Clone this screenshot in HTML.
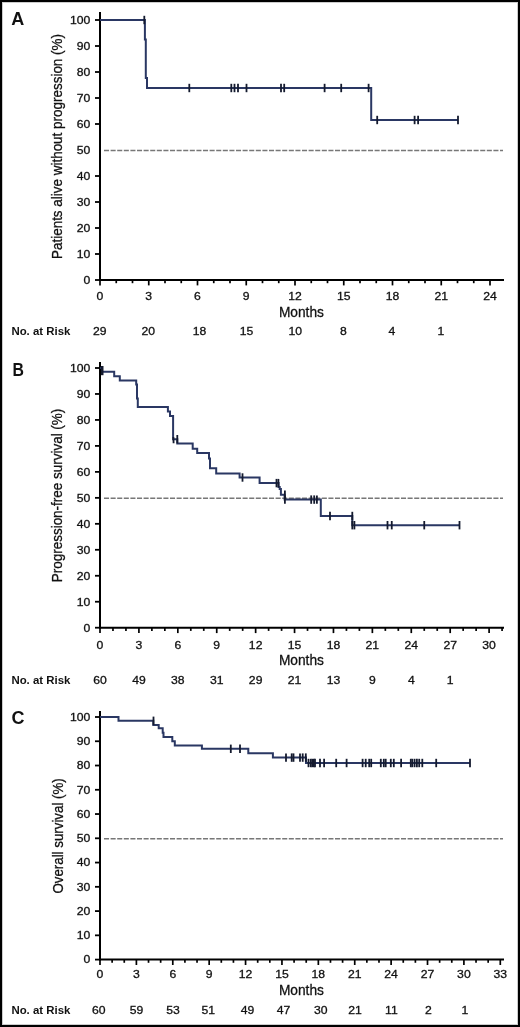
<!DOCTYPE html><html><head><meta charset="utf-8"><style>html,body{margin:0;padding:0;background:#fff;}svg{display:block;will-change:transform;}.t{fill:#111;stroke:#111;stroke-width:0.3px;}.b{fill:#111;font-weight:bold;}</style></head><body>
<svg width="520" height="1027" viewBox="0 0 520 1027" font-family='"Liberation Sans", sans-serif'>
<rect x="0" y="0" width="520" height="1027" fill="#fff"/>
<rect x="2.5" y="2.5" width="515" height="1022" fill="none" stroke="#ccc" stroke-width="1"/><rect x="1" y="1" width="518" height="1025" fill="none" stroke="#000" stroke-width="2"/>
<g><text class="b" transform="translate(11.3,24.6) scale(1,1)" x="0" y="0" font-size="18">A</text><line x1="104" y1="150.40" x2="503" y2="150.40" stroke="#777" stroke-width="1.5" stroke-dasharray="5.05 1.55"/><line x1="100" y1="12" x2="100" y2="281" stroke="#000" stroke-width="2"/><line x1="99" y1="280" x2="504" y2="280" stroke="#000" stroke-width="2"/><line x1="95" y1="280.00" x2="100" y2="280.00" stroke="#000" stroke-width="1.8"/><text class="t" transform="translate(90.3,283.80) scale(1.06,1)" font-size="11.5" text-anchor="end">0</text><line x1="95" y1="254.00" x2="100" y2="254.00" stroke="#000" stroke-width="1.8"/><text class="t" transform="translate(90.3,257.80) scale(1.06,1)" font-size="11.5" text-anchor="end">10</text><line x1="95" y1="228.00" x2="100" y2="228.00" stroke="#000" stroke-width="1.8"/><text class="t" transform="translate(90.3,231.80) scale(1.06,1)" font-size="11.5" text-anchor="end">20</text><line x1="95" y1="202.00" x2="100" y2="202.00" stroke="#000" stroke-width="1.8"/><text class="t" transform="translate(90.3,205.80) scale(1.06,1)" font-size="11.5" text-anchor="end">30</text><line x1="95" y1="176.00" x2="100" y2="176.00" stroke="#000" stroke-width="1.8"/><text class="t" transform="translate(90.3,179.80) scale(1.06,1)" font-size="11.5" text-anchor="end">40</text><text class="t" transform="translate(90.3,153.80) scale(1.06,1)" font-size="11.5" text-anchor="end">50</text><line x1="95" y1="124.00" x2="100" y2="124.00" stroke="#000" stroke-width="1.8"/><text class="t" transform="translate(90.3,127.80) scale(1.06,1)" font-size="11.5" text-anchor="end">60</text><line x1="95" y1="98.00" x2="100" y2="98.00" stroke="#000" stroke-width="1.8"/><text class="t" transform="translate(90.3,101.80) scale(1.06,1)" font-size="11.5" text-anchor="end">70</text><line x1="95" y1="72.00" x2="100" y2="72.00" stroke="#000" stroke-width="1.8"/><text class="t" transform="translate(90.3,75.80) scale(1.06,1)" font-size="11.5" text-anchor="end">80</text><line x1="95" y1="46.00" x2="100" y2="46.00" stroke="#000" stroke-width="1.8"/><text class="t" transform="translate(90.3,49.80) scale(1.06,1)" font-size="11.5" text-anchor="end">90</text><line x1="95" y1="20.00" x2="100" y2="20.00" stroke="#000" stroke-width="1.8"/><text class="t" transform="translate(90.3,23.80) scale(1.06,1)" font-size="11.5" text-anchor="end">100</text><line x1="100.00" y1="280" x2="100.00" y2="285.4" stroke="#000" stroke-width="1.7"/><text class="t" transform="translate(100.00,300.30) scale(1.06,1)" font-size="11.5" text-anchor="middle">0</text><line x1="116.25" y1="280" x2="116.25" y2="283.2" stroke="#000" stroke-width="1.7"/><line x1="132.50" y1="280" x2="132.50" y2="283.2" stroke="#000" stroke-width="1.7"/><line x1="148.75" y1="280" x2="148.75" y2="285.4" stroke="#000" stroke-width="1.7"/><text class="t" transform="translate(148.75,300.30) scale(1.06,1)" font-size="11.5" text-anchor="middle">3</text><line x1="165.00" y1="280" x2="165.00" y2="283.2" stroke="#000" stroke-width="1.7"/><line x1="181.25" y1="280" x2="181.25" y2="283.2" stroke="#000" stroke-width="1.7"/><line x1="197.50" y1="280" x2="197.50" y2="285.4" stroke="#000" stroke-width="1.7"/><text class="t" transform="translate(197.50,300.30) scale(1.06,1)" font-size="11.5" text-anchor="middle">6</text><line x1="213.75" y1="280" x2="213.75" y2="283.2" stroke="#000" stroke-width="1.7"/><line x1="230.00" y1="280" x2="230.00" y2="283.2" stroke="#000" stroke-width="1.7"/><line x1="246.25" y1="280" x2="246.25" y2="285.4" stroke="#000" stroke-width="1.7"/><text class="t" transform="translate(246.25,300.30) scale(1.06,1)" font-size="11.5" text-anchor="middle">9</text><line x1="262.50" y1="280" x2="262.50" y2="283.2" stroke="#000" stroke-width="1.7"/><line x1="278.75" y1="280" x2="278.75" y2="283.2" stroke="#000" stroke-width="1.7"/><line x1="295.00" y1="280" x2="295.00" y2="285.4" stroke="#000" stroke-width="1.7"/><text class="t" transform="translate(295.00,300.30) scale(1.06,1)" font-size="11.5" text-anchor="middle">12</text><line x1="311.25" y1="280" x2="311.25" y2="283.2" stroke="#000" stroke-width="1.7"/><line x1="327.50" y1="280" x2="327.50" y2="283.2" stroke="#000" stroke-width="1.7"/><line x1="343.75" y1="280" x2="343.75" y2="285.4" stroke="#000" stroke-width="1.7"/><text class="t" transform="translate(343.75,300.30) scale(1.06,1)" font-size="11.5" text-anchor="middle">15</text><line x1="360.00" y1="280" x2="360.00" y2="283.2" stroke="#000" stroke-width="1.7"/><line x1="376.25" y1="280" x2="376.25" y2="283.2" stroke="#000" stroke-width="1.7"/><line x1="392.50" y1="280" x2="392.50" y2="285.4" stroke="#000" stroke-width="1.7"/><text class="t" transform="translate(392.50,300.30) scale(1.06,1)" font-size="11.5" text-anchor="middle">18</text><line x1="408.75" y1="280" x2="408.75" y2="283.2" stroke="#000" stroke-width="1.7"/><line x1="425.00" y1="280" x2="425.00" y2="283.2" stroke="#000" stroke-width="1.7"/><line x1="441.25" y1="280" x2="441.25" y2="285.4" stroke="#000" stroke-width="1.7"/><text class="t" transform="translate(441.25,300.30) scale(1.06,1)" font-size="11.5" text-anchor="middle">21</text><line x1="457.50" y1="280" x2="457.50" y2="283.2" stroke="#000" stroke-width="1.7"/><line x1="473.75" y1="280" x2="473.75" y2="283.2" stroke="#000" stroke-width="1.7"/><line x1="490.00" y1="280" x2="490.00" y2="285.4" stroke="#000" stroke-width="1.7"/><text class="t" transform="translate(490.00,300.30) scale(1.06,1)" font-size="11.5" text-anchor="middle">24</text><text class="t" x="301.4" y="316.70" font-size="15" text-anchor="middle" textLength="45" lengthAdjust="spacingAndGlyphs">Months</text><text class="t" transform="translate(62.3,259) rotate(-90)" x="0" y="0" font-size="15" textLength="225.0" lengthAdjust="spacingAndGlyphs">Patients alive without progression (%)</text><text class="b" x="11.4" y="335" font-size="11.3" textLength="59" lengthAdjust="spacingAndGlyphs">No. at Risk</text><text class="t" transform="translate(99.80,335) scale(1.06,1)" font-size="11.5" text-anchor="middle">29</text><text class="t" transform="translate(148.35,335) scale(1.06,1)" font-size="11.5" text-anchor="middle">20</text><text class="t" transform="translate(199.50,335) scale(1.06,1)" font-size="11.5" text-anchor="middle">18</text><text class="t" transform="translate(246.55,335) scale(1.06,1)" font-size="11.5" text-anchor="middle">15</text><text class="t" transform="translate(295.20,335) scale(1.06,1)" font-size="11.5" text-anchor="middle">10</text><text class="t" transform="translate(343.45,335) scale(1.06,1)" font-size="11.5" text-anchor="middle">8</text><text class="t" transform="translate(392.00,335) scale(1.06,1)" font-size="11.5" text-anchor="middle">4</text><text class="t" transform="translate(440.95,335) scale(1.06,1)" font-size="11.5" text-anchor="middle">1</text><path d="M100,20 H144.9 V39.4 H145.8 V78 H147 V88 H371.2 V120 H458" fill="none" stroke="#2a3763" stroke-width="2"/><line x1="144.3" y1="15.8" x2="144.3" y2="24.2" stroke="#141a2e" stroke-width="1.8"/><line x1="189.3" y1="83.8" x2="189.3" y2="92.2" stroke="#141a2e" stroke-width="1.8"/><line x1="231.3" y1="83.8" x2="231.3" y2="92.2" stroke="#141a2e" stroke-width="1.8"/><line x1="234.5" y1="83.8" x2="234.5" y2="92.2" stroke="#141a2e" stroke-width="1.8"/><line x1="238" y1="83.8" x2="238" y2="92.2" stroke="#141a2e" stroke-width="1.8"/><line x1="246.5" y1="83.8" x2="246.5" y2="92.2" stroke="#141a2e" stroke-width="1.8"/><line x1="281" y1="83.8" x2="281" y2="92.2" stroke="#141a2e" stroke-width="1.8"/><line x1="284.2" y1="83.8" x2="284.2" y2="92.2" stroke="#141a2e" stroke-width="1.8"/><line x1="324.6" y1="83.8" x2="324.6" y2="92.2" stroke="#141a2e" stroke-width="1.8"/><line x1="341.2" y1="83.8" x2="341.2" y2="92.2" stroke="#141a2e" stroke-width="1.8"/><line x1="368.6" y1="83.8" x2="368.6" y2="92.2" stroke="#141a2e" stroke-width="1.8"/><line x1="377.2" y1="115.8" x2="377.2" y2="124.2" stroke="#141a2e" stroke-width="1.8"/><line x1="414.6" y1="115.8" x2="414.6" y2="124.2" stroke="#141a2e" stroke-width="1.8"/><line x1="418.1" y1="115.8" x2="418.1" y2="124.2" stroke="#141a2e" stroke-width="1.8"/><line x1="458" y1="115.8" x2="458" y2="124.2" stroke="#141a2e" stroke-width="1.8"/></g>
<g><text class="b" transform="translate(12.5,375.8) scale(0.88,1)" x="0" y="0" font-size="18">B</text><line x1="104" y1="498.25" x2="503" y2="498.25" stroke="#777" stroke-width="1.5" stroke-dasharray="5.05 1.55"/><line x1="100" y1="362.1" x2="100" y2="628.7" stroke="#000" stroke-width="2"/><line x1="99" y1="627.7" x2="504" y2="627.7" stroke="#000" stroke-width="2"/><line x1="95" y1="627.70" x2="100" y2="627.70" stroke="#000" stroke-width="1.8"/><text class="t" transform="translate(90.3,631.50) scale(1.06,1)" font-size="11.5" text-anchor="end">0</text><line x1="95" y1="601.73" x2="100" y2="601.73" stroke="#000" stroke-width="1.8"/><text class="t" transform="translate(90.3,605.53) scale(1.06,1)" font-size="11.5" text-anchor="end">10</text><line x1="95" y1="575.76" x2="100" y2="575.76" stroke="#000" stroke-width="1.8"/><text class="t" transform="translate(90.3,579.56) scale(1.06,1)" font-size="11.5" text-anchor="end">20</text><line x1="95" y1="549.79" x2="100" y2="549.79" stroke="#000" stroke-width="1.8"/><text class="t" transform="translate(90.3,553.59) scale(1.06,1)" font-size="11.5" text-anchor="end">30</text><line x1="95" y1="523.82" x2="100" y2="523.82" stroke="#000" stroke-width="1.8"/><text class="t" transform="translate(90.3,527.62) scale(1.06,1)" font-size="11.5" text-anchor="end">40</text><line x1="95" y1="497.85" x2="100" y2="497.85" stroke="#000" stroke-width="1.8"/><text class="t" transform="translate(90.3,501.65) scale(1.06,1)" font-size="11.5" text-anchor="end">50</text><line x1="95" y1="471.88" x2="100" y2="471.88" stroke="#000" stroke-width="1.8"/><text class="t" transform="translate(90.3,475.68) scale(1.06,1)" font-size="11.5" text-anchor="end">60</text><line x1="95" y1="445.91" x2="100" y2="445.91" stroke="#000" stroke-width="1.8"/><text class="t" transform="translate(90.3,449.71) scale(1.06,1)" font-size="11.5" text-anchor="end">70</text><line x1="95" y1="419.94" x2="100" y2="419.94" stroke="#000" stroke-width="1.8"/><text class="t" transform="translate(90.3,423.74) scale(1.06,1)" font-size="11.5" text-anchor="end">80</text><line x1="95" y1="393.97" x2="100" y2="393.97" stroke="#000" stroke-width="1.8"/><text class="t" transform="translate(90.3,397.77) scale(1.06,1)" font-size="11.5" text-anchor="end">90</text><line x1="95" y1="368.00" x2="100" y2="368.00" stroke="#000" stroke-width="1.8"/><text class="t" transform="translate(90.3,371.80) scale(1.06,1)" font-size="11.5" text-anchor="end">100</text><line x1="100.00" y1="627.7" x2="100.00" y2="633.1" stroke="#000" stroke-width="1.7"/><text class="t" transform="translate(100.00,649.05) scale(1.06,1)" font-size="11.5" text-anchor="middle">0</text><line x1="112.97" y1="627.7" x2="112.97" y2="630.9000000000001" stroke="#000" stroke-width="1.7"/><line x1="125.94" y1="627.7" x2="125.94" y2="630.9000000000001" stroke="#000" stroke-width="1.7"/><line x1="138.91" y1="627.7" x2="138.91" y2="633.1" stroke="#000" stroke-width="1.7"/><text class="t" transform="translate(138.91,649.05) scale(1.06,1)" font-size="11.5" text-anchor="middle">3</text><line x1="151.88" y1="627.7" x2="151.88" y2="630.9000000000001" stroke="#000" stroke-width="1.7"/><line x1="164.85" y1="627.7" x2="164.85" y2="630.9000000000001" stroke="#000" stroke-width="1.7"/><line x1="177.82" y1="627.7" x2="177.82" y2="633.1" stroke="#000" stroke-width="1.7"/><text class="t" transform="translate(177.82,649.05) scale(1.06,1)" font-size="11.5" text-anchor="middle">6</text><line x1="190.79" y1="627.7" x2="190.79" y2="630.9000000000001" stroke="#000" stroke-width="1.7"/><line x1="203.76" y1="627.7" x2="203.76" y2="630.9000000000001" stroke="#000" stroke-width="1.7"/><line x1="216.73" y1="627.7" x2="216.73" y2="633.1" stroke="#000" stroke-width="1.7"/><text class="t" transform="translate(216.73,649.05) scale(1.06,1)" font-size="11.5" text-anchor="middle">9</text><line x1="229.70" y1="627.7" x2="229.70" y2="630.9000000000001" stroke="#000" stroke-width="1.7"/><line x1="242.67" y1="627.7" x2="242.67" y2="630.9000000000001" stroke="#000" stroke-width="1.7"/><line x1="255.64" y1="627.7" x2="255.64" y2="633.1" stroke="#000" stroke-width="1.7"/><text class="t" transform="translate(255.64,649.05) scale(1.06,1)" font-size="11.5" text-anchor="middle">12</text><line x1="268.61" y1="627.7" x2="268.61" y2="630.9000000000001" stroke="#000" stroke-width="1.7"/><line x1="281.58" y1="627.7" x2="281.58" y2="630.9000000000001" stroke="#000" stroke-width="1.7"/><line x1="294.55" y1="627.7" x2="294.55" y2="633.1" stroke="#000" stroke-width="1.7"/><text class="t" transform="translate(294.55,649.05) scale(1.06,1)" font-size="11.5" text-anchor="middle">15</text><line x1="307.52" y1="627.7" x2="307.52" y2="630.9000000000001" stroke="#000" stroke-width="1.7"/><line x1="320.49" y1="627.7" x2="320.49" y2="630.9000000000001" stroke="#000" stroke-width="1.7"/><line x1="333.46" y1="627.7" x2="333.46" y2="633.1" stroke="#000" stroke-width="1.7"/><text class="t" transform="translate(333.46,649.05) scale(1.06,1)" font-size="11.5" text-anchor="middle">18</text><line x1="346.43" y1="627.7" x2="346.43" y2="630.9000000000001" stroke="#000" stroke-width="1.7"/><line x1="359.40" y1="627.7" x2="359.40" y2="630.9000000000001" stroke="#000" stroke-width="1.7"/><line x1="372.37" y1="627.7" x2="372.37" y2="633.1" stroke="#000" stroke-width="1.7"/><text class="t" transform="translate(372.37,649.05) scale(1.06,1)" font-size="11.5" text-anchor="middle">21</text><line x1="385.34" y1="627.7" x2="385.34" y2="630.9000000000001" stroke="#000" stroke-width="1.7"/><line x1="398.31" y1="627.7" x2="398.31" y2="630.9000000000001" stroke="#000" stroke-width="1.7"/><line x1="411.28" y1="627.7" x2="411.28" y2="633.1" stroke="#000" stroke-width="1.7"/><text class="t" transform="translate(411.28,649.05) scale(1.06,1)" font-size="11.5" text-anchor="middle">24</text><line x1="424.25" y1="627.7" x2="424.25" y2="630.9000000000001" stroke="#000" stroke-width="1.7"/><line x1="437.22" y1="627.7" x2="437.22" y2="630.9000000000001" stroke="#000" stroke-width="1.7"/><line x1="450.19" y1="627.7" x2="450.19" y2="633.1" stroke="#000" stroke-width="1.7"/><text class="t" transform="translate(450.19,649.05) scale(1.06,1)" font-size="11.5" text-anchor="middle">27</text><line x1="463.16" y1="627.7" x2="463.16" y2="630.9000000000001" stroke="#000" stroke-width="1.7"/><line x1="476.13" y1="627.7" x2="476.13" y2="630.9000000000001" stroke="#000" stroke-width="1.7"/><line x1="489.10" y1="627.7" x2="489.10" y2="633.1" stroke="#000" stroke-width="1.7"/><text class="t" transform="translate(489.10,649.05) scale(1.06,1)" font-size="11.5" text-anchor="middle">30</text><line x1="502.07" y1="627.7" x2="502.07" y2="630.9000000000001" stroke="#000" stroke-width="1.7"/><text class="t" x="301.4" y="665.40" font-size="15" text-anchor="middle" textLength="45" lengthAdjust="spacingAndGlyphs">Months</text><text class="t" transform="translate(62.3,582.2) rotate(-90)" x="0" y="0" font-size="15" textLength="173.5" lengthAdjust="spacingAndGlyphs">Progression-free survival (%)</text><text class="b" x="11.4" y="683.75" font-size="11.3" textLength="59" lengthAdjust="spacingAndGlyphs">No. at Risk</text><text class="t" transform="translate(100.00,683.75) scale(1.06,1)" font-size="11.5" text-anchor="middle">60</text><text class="t" transform="translate(138.91,683.75) scale(1.06,1)" font-size="11.5" text-anchor="middle">49</text><text class="t" transform="translate(177.82,683.75) scale(1.06,1)" font-size="11.5" text-anchor="middle">38</text><text class="t" transform="translate(216.73,683.75) scale(1.06,1)" font-size="11.5" text-anchor="middle">31</text><text class="t" transform="translate(255.64,683.75) scale(1.06,1)" font-size="11.5" text-anchor="middle">29</text><text class="t" transform="translate(294.55,683.75) scale(1.06,1)" font-size="11.5" text-anchor="middle">21</text><text class="t" transform="translate(333.46,683.75) scale(1.06,1)" font-size="11.5" text-anchor="middle">13</text><text class="t" transform="translate(372.37,683.75) scale(1.06,1)" font-size="11.5" text-anchor="middle">9</text><text class="t" transform="translate(411.28,683.75) scale(1.06,1)" font-size="11.5" text-anchor="middle">4</text><text class="t" transform="translate(450.19,683.75) scale(1.06,1)" font-size="11.5" text-anchor="middle">1</text><path d="M100,368 H102 V371.7 H114.2 V376.3 H119.8 V380.4 H136.2 V384.5 H137 V398.5 H137.8 V407.1 H167.9 V411.4 H170 V416.1 H173.1 V439.2 H177.3 V443.5 H192.7 V448.7 H197.2 V452.9 H209 V458.5 H210 V468.3 H216.2 V473.4 H239.6 V477.5 H259.6 V483.1 H278.6 V487 H279.7 V489 H280.9 V494.8 H284.6 V499.6 H320.8 V516 H352.3 V525.2 H459.5" fill="none" stroke="#2a3763" stroke-width="2"/><line x1="102.2" y1="366" x2="102.2" y2="375.2" stroke="#141a2e" stroke-width="2.6"/><line x1="173.4" y1="437" x2="173.6" y2="443.3" stroke="#141a2e" stroke-width="1.8"/><line x1="177.3" y1="435.0" x2="177.3" y2="443.4" stroke="#141a2e" stroke-width="1.8"/><line x1="242.5" y1="473.3" x2="242.5" y2="481.7" stroke="#141a2e" stroke-width="1.8"/><line x1="276.5" y1="478.90000000000003" x2="276.5" y2="487.3" stroke="#141a2e" stroke-width="1.8"/><line x1="278.4" y1="478.90000000000003" x2="278.4" y2="487.3" stroke="#141a2e" stroke-width="1.8"/><line x1="284.9" y1="490.6" x2="284.9" y2="499.0" stroke="#141a2e" stroke-width="1.8"/><line x1="284.9" y1="495.40000000000003" x2="284.9" y2="503.8" stroke="#141a2e" stroke-width="1.8"/><line x1="311.2" y1="495.40000000000003" x2="311.2" y2="503.8" stroke="#141a2e" stroke-width="1.8"/><line x1="314.2" y1="495.40000000000003" x2="314.2" y2="503.8" stroke="#141a2e" stroke-width="1.8"/><line x1="316.9" y1="495.40000000000003" x2="316.9" y2="503.8" stroke="#141a2e" stroke-width="1.8"/><line x1="330" y1="511.8" x2="330" y2="520.2" stroke="#141a2e" stroke-width="1.8"/><line x1="352.3" y1="511.8" x2="352.3" y2="520.2" stroke="#141a2e" stroke-width="1.8"/><line x1="352.3" y1="521.0" x2="352.3" y2="529.4000000000001" stroke="#141a2e" stroke-width="1.8"/><line x1="354.4" y1="521.0" x2="354.4" y2="529.4000000000001" stroke="#141a2e" stroke-width="1.8"/><line x1="387.5" y1="521.0" x2="387.5" y2="529.4000000000001" stroke="#141a2e" stroke-width="1.8"/><line x1="391.75" y1="521.0" x2="391.75" y2="529.4000000000001" stroke="#141a2e" stroke-width="1.8"/><line x1="424.25" y1="521.0" x2="424.25" y2="529.4000000000001" stroke="#141a2e" stroke-width="1.8"/><line x1="459.5" y1="521.0" x2="459.5" y2="529.4000000000001" stroke="#141a2e" stroke-width="1.8"/></g>
<g><text class="b" transform="translate(11.6,723.7) scale(1,1)" x="0" y="0" font-size="18">C</text><line x1="104" y1="838.70" x2="503" y2="838.70" stroke="#777" stroke-width="1.5" stroke-dasharray="5.05 1.55"/><line x1="100" y1="711" x2="100" y2="960.6" stroke="#000" stroke-width="2"/><line x1="99" y1="959.6" x2="504" y2="959.6" stroke="#000" stroke-width="2"/><line x1="95" y1="959.60" x2="100" y2="959.60" stroke="#000" stroke-width="1.8"/><text class="t" transform="translate(90.3,963.40) scale(1.06,1)" font-size="11.5" text-anchor="end">0</text><line x1="95" y1="935.34" x2="100" y2="935.34" stroke="#000" stroke-width="1.8"/><text class="t" transform="translate(90.3,939.14) scale(1.06,1)" font-size="11.5" text-anchor="end">10</text><line x1="95" y1="911.08" x2="100" y2="911.08" stroke="#000" stroke-width="1.8"/><text class="t" transform="translate(90.3,914.88) scale(1.06,1)" font-size="11.5" text-anchor="end">20</text><line x1="95" y1="886.82" x2="100" y2="886.82" stroke="#000" stroke-width="1.8"/><text class="t" transform="translate(90.3,890.62) scale(1.06,1)" font-size="11.5" text-anchor="end">30</text><line x1="95" y1="862.56" x2="100" y2="862.56" stroke="#000" stroke-width="1.8"/><text class="t" transform="translate(90.3,866.36) scale(1.06,1)" font-size="11.5" text-anchor="end">40</text><line x1="95" y1="838.30" x2="100" y2="838.30" stroke="#000" stroke-width="1.8"/><text class="t" transform="translate(90.3,842.10) scale(1.06,1)" font-size="11.5" text-anchor="end">50</text><line x1="95" y1="814.04" x2="100" y2="814.04" stroke="#000" stroke-width="1.8"/><text class="t" transform="translate(90.3,817.84) scale(1.06,1)" font-size="11.5" text-anchor="end">60</text><line x1="95" y1="789.78" x2="100" y2="789.78" stroke="#000" stroke-width="1.8"/><text class="t" transform="translate(90.3,793.58) scale(1.06,1)" font-size="11.5" text-anchor="end">70</text><line x1="95" y1="765.52" x2="100" y2="765.52" stroke="#000" stroke-width="1.8"/><text class="t" transform="translate(90.3,769.32) scale(1.06,1)" font-size="11.5" text-anchor="end">80</text><line x1="95" y1="741.26" x2="100" y2="741.26" stroke="#000" stroke-width="1.8"/><text class="t" transform="translate(90.3,745.06) scale(1.06,1)" font-size="11.5" text-anchor="end">90</text><line x1="95" y1="717.00" x2="100" y2="717.00" stroke="#000" stroke-width="1.8"/><text class="t" transform="translate(90.3,720.80) scale(1.06,1)" font-size="11.5" text-anchor="end">100</text><line x1="100.00" y1="959.6" x2="100.00" y2="965.0" stroke="#000" stroke-width="1.7"/><text class="t" transform="translate(100.00,978.10) scale(1.06,1)" font-size="11.5" text-anchor="middle">0</text><line x1="112.13" y1="959.6" x2="112.13" y2="962.8000000000001" stroke="#000" stroke-width="1.7"/><line x1="124.26" y1="959.6" x2="124.26" y2="962.8000000000001" stroke="#000" stroke-width="1.7"/><line x1="136.39" y1="959.6" x2="136.39" y2="965.0" stroke="#000" stroke-width="1.7"/><text class="t" transform="translate(136.39,978.10) scale(1.06,1)" font-size="11.5" text-anchor="middle">3</text><line x1="148.52" y1="959.6" x2="148.52" y2="962.8000000000001" stroke="#000" stroke-width="1.7"/><line x1="160.65" y1="959.6" x2="160.65" y2="962.8000000000001" stroke="#000" stroke-width="1.7"/><line x1="172.78" y1="959.6" x2="172.78" y2="965.0" stroke="#000" stroke-width="1.7"/><text class="t" transform="translate(172.78,978.10) scale(1.06,1)" font-size="11.5" text-anchor="middle">6</text><line x1="184.91" y1="959.6" x2="184.91" y2="962.8000000000001" stroke="#000" stroke-width="1.7"/><line x1="197.04" y1="959.6" x2="197.04" y2="962.8000000000001" stroke="#000" stroke-width="1.7"/><line x1="209.17" y1="959.6" x2="209.17" y2="965.0" stroke="#000" stroke-width="1.7"/><text class="t" transform="translate(209.17,978.10) scale(1.06,1)" font-size="11.5" text-anchor="middle">9</text><line x1="221.30" y1="959.6" x2="221.30" y2="962.8000000000001" stroke="#000" stroke-width="1.7"/><line x1="233.43" y1="959.6" x2="233.43" y2="962.8000000000001" stroke="#000" stroke-width="1.7"/><line x1="245.56" y1="959.6" x2="245.56" y2="965.0" stroke="#000" stroke-width="1.7"/><text class="t" transform="translate(245.56,978.10) scale(1.06,1)" font-size="11.5" text-anchor="middle">12</text><line x1="257.69" y1="959.6" x2="257.69" y2="962.8000000000001" stroke="#000" stroke-width="1.7"/><line x1="269.82" y1="959.6" x2="269.82" y2="962.8000000000001" stroke="#000" stroke-width="1.7"/><line x1="281.95" y1="959.6" x2="281.95" y2="965.0" stroke="#000" stroke-width="1.7"/><text class="t" transform="translate(281.95,978.10) scale(1.06,1)" font-size="11.5" text-anchor="middle">15</text><line x1="294.08" y1="959.6" x2="294.08" y2="962.8000000000001" stroke="#000" stroke-width="1.7"/><line x1="306.21" y1="959.6" x2="306.21" y2="962.8000000000001" stroke="#000" stroke-width="1.7"/><line x1="318.34" y1="959.6" x2="318.34" y2="965.0" stroke="#000" stroke-width="1.7"/><text class="t" transform="translate(318.34,978.10) scale(1.06,1)" font-size="11.5" text-anchor="middle">18</text><line x1="330.47" y1="959.6" x2="330.47" y2="962.8000000000001" stroke="#000" stroke-width="1.7"/><line x1="342.60" y1="959.6" x2="342.60" y2="962.8000000000001" stroke="#000" stroke-width="1.7"/><line x1="354.73" y1="959.6" x2="354.73" y2="965.0" stroke="#000" stroke-width="1.7"/><text class="t" transform="translate(354.73,978.10) scale(1.06,1)" font-size="11.5" text-anchor="middle">21</text><line x1="366.86" y1="959.6" x2="366.86" y2="962.8000000000001" stroke="#000" stroke-width="1.7"/><line x1="378.99" y1="959.6" x2="378.99" y2="962.8000000000001" stroke="#000" stroke-width="1.7"/><line x1="391.12" y1="959.6" x2="391.12" y2="965.0" stroke="#000" stroke-width="1.7"/><text class="t" transform="translate(391.12,978.10) scale(1.06,1)" font-size="11.5" text-anchor="middle">24</text><line x1="403.25" y1="959.6" x2="403.25" y2="962.8000000000001" stroke="#000" stroke-width="1.7"/><line x1="415.38" y1="959.6" x2="415.38" y2="962.8000000000001" stroke="#000" stroke-width="1.7"/><line x1="427.51" y1="959.6" x2="427.51" y2="965.0" stroke="#000" stroke-width="1.7"/><text class="t" transform="translate(427.51,978.10) scale(1.06,1)" font-size="11.5" text-anchor="middle">27</text><line x1="439.64" y1="959.6" x2="439.64" y2="962.8000000000001" stroke="#000" stroke-width="1.7"/><line x1="451.77" y1="959.6" x2="451.77" y2="962.8000000000001" stroke="#000" stroke-width="1.7"/><line x1="463.90" y1="959.6" x2="463.90" y2="965.0" stroke="#000" stroke-width="1.7"/><text class="t" transform="translate(463.90,978.10) scale(1.06,1)" font-size="11.5" text-anchor="middle">30</text><line x1="476.03" y1="959.6" x2="476.03" y2="962.8000000000001" stroke="#000" stroke-width="1.7"/><line x1="488.16" y1="959.6" x2="488.16" y2="962.8000000000001" stroke="#000" stroke-width="1.7"/><line x1="500.29" y1="959.6" x2="500.29" y2="965.0" stroke="#000" stroke-width="1.7"/><text class="t" transform="translate(500.29,978.10) scale(1.06,1)" font-size="11.5" text-anchor="middle">33</text><text class="t" x="301.4" y="995.40" font-size="15" text-anchor="middle" textLength="45" lengthAdjust="spacingAndGlyphs">Months</text><text class="t" transform="translate(62.8,893.6) rotate(-90)" x="0" y="0" font-size="15" textLength="115.4" lengthAdjust="spacingAndGlyphs">Overall survival (%)</text><text class="b" x="11.4" y="1013.9" font-size="11.3" textLength="59" lengthAdjust="spacingAndGlyphs">No. at Risk</text><text class="t" transform="translate(98.80,1013.9) scale(1.06,1)" font-size="11.5" text-anchor="middle">60</text><text class="t" transform="translate(136.59,1013.9) scale(1.06,1)" font-size="11.5" text-anchor="middle">59</text><text class="t" transform="translate(172.98,1013.9) scale(1.06,1)" font-size="11.5" text-anchor="middle">53</text><text class="t" transform="translate(208.17,1013.9) scale(1.06,1)" font-size="11.5" text-anchor="middle">51</text><text class="t" transform="translate(247.46,1013.9) scale(1.06,1)" font-size="11.5" text-anchor="middle">49</text><text class="t" transform="translate(283.45,1013.9) scale(1.06,1)" font-size="11.5" text-anchor="middle">47</text><text class="t" transform="translate(320.84,1013.9) scale(1.06,1)" font-size="11.5" text-anchor="middle">30</text><text class="t" transform="translate(354.93,1013.9) scale(1.06,1)" font-size="11.5" text-anchor="middle">21</text><text class="t" transform="translate(391.42,1013.9) scale(1.06,1)" font-size="11.5" text-anchor="middle">11</text><text class="t" transform="translate(428.51,1013.9) scale(1.06,1)" font-size="11.5" text-anchor="middle">2</text><text class="t" transform="translate(464.90,1013.9) scale(1.06,1)" font-size="11.5" text-anchor="middle">1</text><path d="M100,717 H118.5 V720.8 H153.3 V725 H158.7 V728.3 H162.7 V732.7 H163.5 V736.9 H172.3 V741.2 H174.8 V745.4 H201.9 V748.8 H248.3 V753.2 H272.9 V757.6 H306 V763 H470" fill="none" stroke="#2a3763" stroke-width="2"/><line x1="153.5" y1="716.5999999999999" x2="153.5" y2="725.0" stroke="#141a2e" stroke-width="1.8"/><line x1="230.8" y1="744.5999999999999" x2="230.8" y2="753.0" stroke="#141a2e" stroke-width="1.8"/><line x1="240" y1="744.5999999999999" x2="240" y2="753.0" stroke="#141a2e" stroke-width="1.8"/><line x1="286" y1="753.4" x2="286" y2="761.8000000000001" stroke="#141a2e" stroke-width="1.8"/><line x1="291.7" y1="753.4" x2="291.7" y2="761.8000000000001" stroke="#141a2e" stroke-width="1.8"/><line x1="293.5" y1="753.4" x2="293.5" y2="761.8000000000001" stroke="#141a2e" stroke-width="1.8"/><line x1="300" y1="753.4" x2="300" y2="761.8000000000001" stroke="#141a2e" stroke-width="1.8"/><line x1="302.7" y1="753.4" x2="302.7" y2="761.8000000000001" stroke="#141a2e" stroke-width="1.8"/><line x1="305.8" y1="753.4" x2="305.8" y2="761.8000000000001" stroke="#141a2e" stroke-width="1.8"/><line x1="308.5" y1="758.8" x2="308.5" y2="767.2" stroke="#141a2e" stroke-width="1.8"/><line x1="310.8" y1="758.8" x2="310.8" y2="767.2" stroke="#141a2e" stroke-width="1.8"/><line x1="312.3" y1="758.8" x2="312.3" y2="767.2" stroke="#141a2e" stroke-width="1.8"/><line x1="313.8" y1="758.8" x2="313.8" y2="767.2" stroke="#141a2e" stroke-width="1.8"/><line x1="315" y1="758.8" x2="315" y2="767.2" stroke="#141a2e" stroke-width="1.8"/><line x1="320" y1="758.8" x2="320" y2="767.2" stroke="#141a2e" stroke-width="1.8"/><line x1="324.1" y1="758.8" x2="324.1" y2="767.2" stroke="#141a2e" stroke-width="1.8"/><line x1="336.2" y1="758.8" x2="336.2" y2="767.2" stroke="#141a2e" stroke-width="1.8"/><line x1="346.6" y1="758.8" x2="346.6" y2="767.2" stroke="#141a2e" stroke-width="1.8"/><line x1="362.6" y1="758.8" x2="362.6" y2="767.2" stroke="#141a2e" stroke-width="1.8"/><line x1="365.7" y1="758.8" x2="365.7" y2="767.2" stroke="#141a2e" stroke-width="1.8"/><line x1="369.2" y1="758.8" x2="369.2" y2="767.2" stroke="#141a2e" stroke-width="1.8"/><line x1="371.2" y1="758.8" x2="371.2" y2="767.2" stroke="#141a2e" stroke-width="1.8"/><line x1="380.8" y1="758.8" x2="380.8" y2="767.2" stroke="#141a2e" stroke-width="1.8"/><line x1="383.8" y1="758.8" x2="383.8" y2="767.2" stroke="#141a2e" stroke-width="1.8"/><line x1="385.7" y1="758.8" x2="385.7" y2="767.2" stroke="#141a2e" stroke-width="1.8"/><line x1="390.8" y1="758.8" x2="390.8" y2="767.2" stroke="#141a2e" stroke-width="1.8"/><line x1="393.8" y1="758.8" x2="393.8" y2="767.2" stroke="#141a2e" stroke-width="1.8"/><line x1="401.1" y1="758.8" x2="401.1" y2="767.2" stroke="#141a2e" stroke-width="1.8"/><line x1="410.8" y1="758.8" x2="410.8" y2="767.2" stroke="#141a2e" stroke-width="1.8"/><line x1="412.3" y1="758.8" x2="412.3" y2="767.2" stroke="#141a2e" stroke-width="1.8"/><line x1="414.6" y1="758.8" x2="414.6" y2="767.2" stroke="#141a2e" stroke-width="1.8"/><line x1="416.9" y1="758.8" x2="416.9" y2="767.2" stroke="#141a2e" stroke-width="1.8"/><line x1="419.2" y1="758.8" x2="419.2" y2="767.2" stroke="#141a2e" stroke-width="1.8"/><line x1="422.3" y1="758.8" x2="422.3" y2="767.2" stroke="#141a2e" stroke-width="1.8"/><line x1="436.2" y1="758.8" x2="436.2" y2="767.2" stroke="#141a2e" stroke-width="1.8"/><line x1="470" y1="758.8" x2="470" y2="767.2" stroke="#141a2e" stroke-width="1.8"/></g>
</svg></body></html>
